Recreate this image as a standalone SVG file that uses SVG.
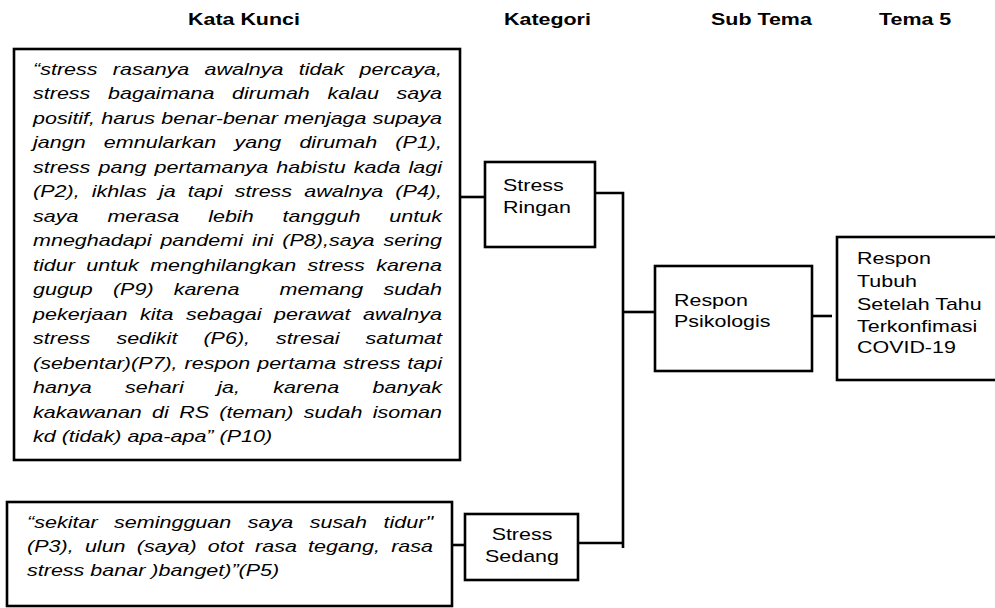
<svg xmlns="http://www.w3.org/2000/svg" width="995" height="608" viewBox="0 0 995 608">
<style>
.box{fill:#fff;stroke:#000;stroke-width:2.6}
.ln{fill:none;stroke:#000;stroke-width:2.6}
.hd{font-family:"Liberation Sans",Arial,sans-serif;font-size:16px;font-weight:bold;fill:#000}
.lb{font-family:"Liberation Sans",Arial,sans-serif;font-size:16px;fill:#000}
.q{font-family:"Liberation Sans",Arial,sans-serif;font-size:16px;font-style:italic;fill:#000}
</style>
<rect width="995" height="608" fill="#fff"/>
<g id="headers">
<text class="hd" transform="translate(188,25) scale(1.34,1)">Kata Kunci</text>
<text class="hd" transform="translate(504,25) scale(1.34,1)">Kategori</text>
<text class="hd" transform="translate(711,25) scale(1.34,1)">Sub Tema</text>
<text class="hd" transform="translate(879,25) scale(1.34,1)">Tema 5</text>
</g>
<g id="connectors">
<path class="ln" d="M460 197H485"/>
<path class="ln" d="M452 545H465"/>
<path class="ln" d="M595 193H623V548"/>
<path class="ln" d="M578 543H623"/>
<path class="ln" d="M623 312H655"/>
<path class="ln" d="M812 316H832"/>
</g>
<g id="kata-kunci-1">
<rect class="box" x="14" y="49" width="446" height="411"/>
<g transform="translate(33,0) scale(1.345,1)">
<text class="q" x="0" y="75" word-spacing="6.9" textLength="304.1" lengthAdjust="spacing">“stress rasanya awalnya tidak percaya,</text>
<text class="q" x="0" y="99.5" word-spacing="8.7" textLength="304.1" lengthAdjust="spacing">stress bagaimana dirumah kalau saya</text>
<text class="q" x="0" y="124" word-spacing="0.2" textLength="304.1" lengthAdjust="spacing">positif, harus benar-benar menjaga supaya</text>
<text class="q" x="0" y="148.5" word-spacing="9.1" textLength="304.1" lengthAdjust="spacing">jangn emnularkan yang dirumah (P1),</text>
<text class="q" x="0" y="173" word-spacing="1.6" textLength="304.1" lengthAdjust="spacing">stress pang pertamanya habistu kada lagi</text>
<text class="q" x="0" y="197.5" word-spacing="4.6" textLength="304.1" lengthAdjust="spacing">(P2), ikhlas ja tapi stress awalnya (P4),</text>
<text class="q" x="0" y="222" word-spacing="17.1" textLength="304.1" lengthAdjust="spacing">saya merasa lebih tangguh untuk</text>
<text class="q" x="0" y="246.5" word-spacing="2.2" textLength="304.1" lengthAdjust="spacing">mneghadapi pandemi ini (P8),saya sering</text>
<text class="q" x="0" y="271" word-spacing="4.0" textLength="304.1" lengthAdjust="spacing">tidur untuk menghilangkan stress karena</text>
<text class="q" x="0" y="295.5" word-spacing="10.5" textLength="304.1" lengthAdjust="spacing" xml:space="preserve" style="white-space:pre">gugup (P9) karena  memang sudah</text>
<text class="q" x="0" y="320" word-spacing="4.9" textLength="304.1" lengthAdjust="spacing">pekerjaan kita sebagai perawat awalnya</text>
<text class="q" x="0" y="344.5" word-spacing="14.9" textLength="304.1" lengthAdjust="spacing">stress sedikit (P6), stresai satumat</text>
<text class="q" x="0" y="369" word-spacing="0.7" textLength="304.1" lengthAdjust="spacing">(sebentar)(P7), respon pertama stress tapi</text>
<text class="q" x="0" y="393.5" word-spacing="20.4" textLength="304.1" lengthAdjust="spacing">hanya sehari ja, karena banyak</text>
<text class="q" x="0" y="418" word-spacing="3.2" textLength="304.1" lengthAdjust="spacing">kakawanan di RS (teman) sudah isoman</text>
<text class="q" x="0" y="442.5">kd (tidak) apa-apa” (P10)</text>
</g>
</g>
<g id="kata-kunci-2">
<rect class="box" x="7" y="502" width="445" height="104"/>
<g transform="translate(27,0) scale(1.345,1)">
<text class="q" x="0" y="528" word-spacing="7.8" textLength="301.9" lengthAdjust="spacing">“sekitar semingguan saya susah tidur"</text>
<text class="q" x="0" y="552" word-spacing="3.9" textLength="301.9" lengthAdjust="spacing">(P3), ulun (saya) otot rasa tegang, rasa</text>
<text class="q" x="0" y="576">stress banar )banget)”(P5)</text>
</g>
</g>
<g id="stress-ringan">
<rect class="box" x="485" y="162" width="110" height="85"/>
<text class="lb" transform="translate(503,191) scale(1.34,1)">Stress</text>
<text class="lb" transform="translate(503,213) scale(1.34,1)">Ringan</text>
</g>
<g id="stress-sedang">
<rect class="box" x="465" y="514" width="113" height="66"/>
<text class="lb" text-anchor="middle" transform="translate(522,540) scale(1.34,1)">Stress</text>
<text class="lb" text-anchor="middle" transform="translate(522,562) scale(1.34,1)">Sedang</text>
</g>
<g id="respon-psikologis">
<rect class="box" x="655" y="266" width="157" height="105"/>
<text class="lb" transform="translate(674,306) scale(1.34,1)">Respon</text>
<text class="lb" transform="translate(674,327) scale(1.34,1)">Psikologis</text>
</g>
<g id="tema-5">
<rect class="box" x="837" y="237" width="170" height="143"/>
<text class="lb" transform="translate(857,264) scale(1.34,1)">Respon</text>
<text class="lb" transform="translate(857,287) scale(1.34,1)">Tubuh</text>
<text class="lb" transform="translate(857,310) scale(1.34,1)">Setelah Tahu</text>
<text class="lb" transform="translate(857,332) scale(1.34,1)">Terkonfimasi</text>
<text class="lb" transform="translate(857,353) scale(1.34,1)">COVID-19</text>
</g>
</svg>
